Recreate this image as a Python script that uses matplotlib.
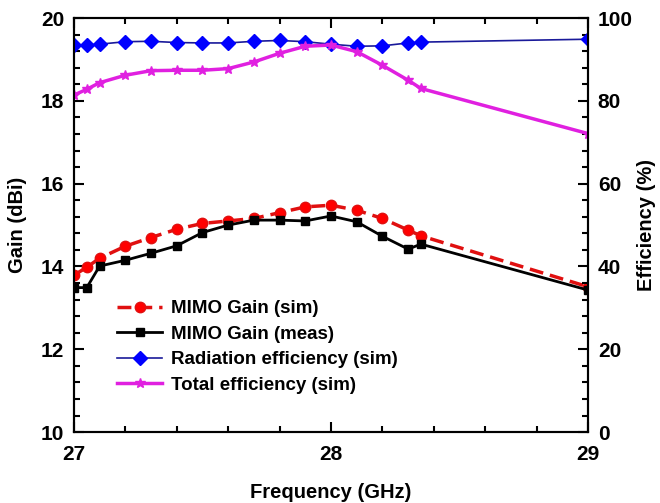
import matplotlib
matplotlib.use("Agg")
import matplotlib.pyplot as plt
from matplotlib.ticker import MultipleLocator

plt.rcParams['font.family'] = ['Liberation Sans', 'DejaVu Sans']
plt.rcParams['font.weight'] = 'bold'

freq = [27.0, 27.05, 27.1, 27.2, 27.3, 27.4, 27.5, 27.6, 27.7, 27.8,
        27.9, 28.0, 28.1, 28.2, 28.3, 28.35, 29.0]
gain_sim = [13.79, 13.98, 14.2, 14.49, 14.7, 14.9, 15.04, 15.1, 15.16, 15.3,
            15.44, 15.48, 15.36, 15.16, 14.88, 14.74, 13.51]
gain_meas = [13.49, 13.49, 14.01, 14.15, 14.32, 14.5, 14.82, 15.0, 15.12, 15.12,
             15.1, 15.22, 15.08, 14.73, 14.42, 14.54, 13.43]
rad_eff = [93.5, 93.5, 93.7, 94.3, 94.4, 94.1, 94.0, 94.0, 94.4, 94.6,
           94.3, 93.7, 93.2, 93.3, 94.0, 94.2, 94.9]
tot_eff = [81.4, 82.8, 84.4, 86.2, 87.3, 87.4, 87.4, 87.8, 89.4, 91.5,
           93.2, 93.5, 91.9, 88.6, 85.0, 83.0, 72.1]

fig = plt.figure(figsize=(6.6, 5.03), dpi=100)
ax = fig.add_axes([0.112, 0.141, 0.779, 0.823])
ax2 = ax.twinx()

l1, = ax.plot(freq, gain_sim, '--o', color='#e01010', mec='#e01010', mfc='#ff0000',
              lw=2.5, ms=7.5, dashes=(4, 2), label='MIMO Gain (sim)')
l2, = ax.plot(freq, gain_meas, '-s', color='black', lw=2, ms=6,
              label='MIMO Gain (meas)')
l3, = ax2.plot(freq, rad_eff, '-D', color='#1a1a9a', mec='#0000ff', mfc='#0000ff',
               lw=1.2, ms=7, label='Radiation efficiency (sim)')
l4, = ax2.plot(freq, tot_eff, '-*', color='#e020e0', lw=2.5, ms=7,
               label='Total efficiency (sim)')

ax.set_xlim(27, 29)
ax.set_ylim(10, 20)
ax2.set_ylim(0, 100)
ax.xaxis.set_major_locator(MultipleLocator(1))
ax.xaxis.set_minor_locator(MultipleLocator(0.2))
ax.yaxis.set_major_locator(MultipleLocator(2))
ax.yaxis.set_minor_locator(MultipleLocator(0.4))
ax2.yaxis.set_major_locator(MultipleLocator(20))
ax2.yaxis.set_minor_locator(MultipleLocator(4))

ax.tick_params(which='both', direction='in', top=True, width=1.5, labelsize=15)
ax.tick_params(which='major', length=7)
ax.tick_params(which='minor', length=4)
ax.tick_params(axis='x', which='major', pad=9)
ax.tick_params(axis='y', which='major', pad=7)
ax2.tick_params(which='both', direction='in', width=1.5, labelsize=15)
ax2.tick_params(which='major', length=7, pad=7)
ax2.tick_params(which='minor', length=4)
for a in (ax, ax2):
    for s in a.spines.values():
        s.set_linewidth(1.5)

ax.set_xlabel('Frequency (GHz)', fontsize=14.5, fontweight='bold', labelpad=14)
ax.set_ylabel('Gain (dBi)', fontsize=14.5, fontweight='bold', labelpad=10)
ax2.set_ylabel('Efficiency (%)', fontsize=14.5, fontweight='bold', labelpad=3)

leg = ax.legend(handles=[l1, l2, l3, l4], loc='upper left',
                bbox_to_anchor=(0.084, 0.319), frameon=False, fontsize=13.5,
                handlelength=2.4, handletextpad=0.5, labelspacing=0.45,
                borderaxespad=0, borderpad=0)

fig.savefig('out.png', dpi=100)
